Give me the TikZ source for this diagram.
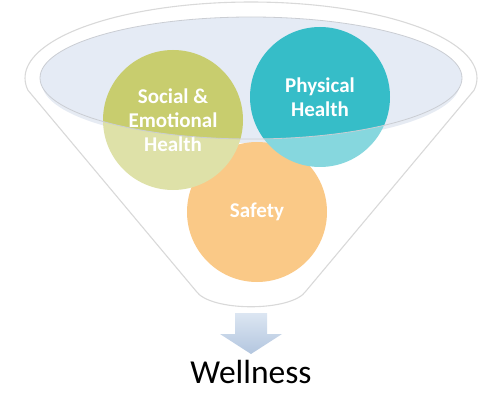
\documentclass[tikz,border=0pt]{standalone}
\usepackage{fontspec}
\setmainfont{Carlito}
\definecolor{olivec}{HTML}{C8CD6E}
\definecolor{tealc}{HTML}{36BDC8}
\definecolor{orangec}{HTML}{F8A537}
\definecolor{rimfill}{HTML}{E5EBF5}
\definecolor{rimshadow}{HTML}{D6DFEC}
\definecolor{rimline}{HTML}{CACDD3}
\definecolor{funnelgray}{HTML}{D9D9D9}
\definecolor{arrowtop}{HTML}{DCE6F2}
\definecolor{arrowbot}{HTML}{B3C6DF}
\begin{document}
\begin{tikzpicture}[x=1pt,y=-1pt,
  funnelline/.style={draw=funnelgray, line width=1.1pt, line join=round},
  bubble/.style={circle, minimum size=140pt, inner sep=0pt, text=white, align=center,
    font=\fontsize{21}{24}\selectfont\bfseries},
  wash/.style={fill=white, opacity=0.4, even odd rule},
]
\useasboundingbox (0,0) rectangle (498,417);
% rim of the funnel
\fill[rimshadow] (251,83) ellipse [x radius=209, y radius=60];
\fill[rimfill] (251,78) ellipse [x radius=211, y radius=61];
% bubbles
\node[bubble, fill=orangec] (safety) at (257,212) {Safety};
\node[bubble, fill=olivec] (social) at (173,120) {Social \&\\Emotional\\Health};
\node[bubble, fill=tealc] (physical) at (320,97) {Physical\\Health};
% funnel body washes out what lies below the rim
\fill[wash] (0,0) rectangle (498,417) (251,78) ellipse [x radius=211, y radius=61];
\draw[rimline, line width=0.8pt] (251,78) ellipse [x radius=211, y radius=61];
% funnel outline
\draw[funnelline] plot[domain=170.7:369.3, samples=90] ({251+226*cos(\x)},{78+76*sin(\x)})
  -- (306,291) .. controls (292,312) and (210,312) .. (196,291) -- cycle;
% arrow
\shade[top color=arrowtop, bottom color=arrowbot]
  (235,313) -- (267,313) -- (267,334) -- (282,334) -- (251,354) -- (220,334) -- (235,334) -- cycle;
\node[font=\fontsize{33.5}{40}\selectfont, anchor=base, inner sep=0pt] (wellness) at (251,383) {Wellness};
\end{tikzpicture}
\end{document}
